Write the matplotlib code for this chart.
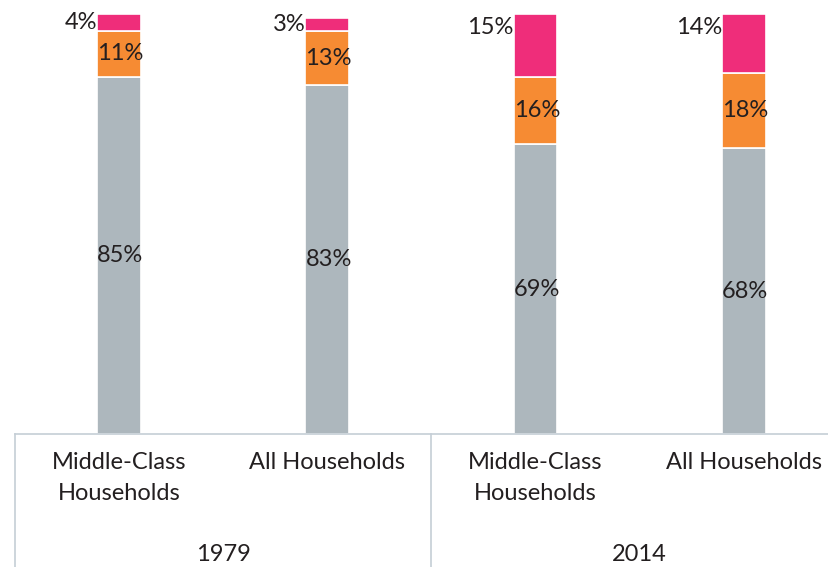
import numpy as np
import matplotlib.pyplot as plt

groups = ["1979", "2014"]
categories = ["Middle-Class\nHouseholds", "All Households",
              "Middle-Class\nHouseholds", "All Households"]
bottom_vals = [85, 83, 69, 68]
middle_vals = [11, 13, 16, 18]
top_vals = [4, 3, 15, 14]

c_gray = "#adb7bd"
c_orange = "#f68b33"
c_pink = "#ef2d7a"
txt = "#231f20"
line_c = "#c5ced6"

plt.rcParams['font.family'] = ['Lato', 'DejaVu Sans']

fig = plt.figure(figsize=(8.29, 5.67), dpi=100)
ax = fig.add_axes([15 / 829, 133 / 567, 1 - 15 / 829, 420 / 567])

x = np.arange(len(categories))
w = 0.21
b = np.array(bottom_vals)
m = np.array(middle_vals)
t = np.array(top_vals)

ax.bar(x, b, w, color=c_gray, edgecolor="white", linewidth=1.2)
ax.bar(x, m, w, bottom=b, color=c_orange, edgecolor="white", linewidth=1.2)
ax.bar(x, t, w, bottom=b + m, color=c_pink, edgecolor="white", linewidth=1.2)

fs = 17
for i in range(len(x)):
    left = x[i] - w / 2
    ax.text(left, b[i] / 2, f"{b[i]}%", ha="left", va="center", fontsize=fs, color=txt)
    ax.text(left, b[i] + m[i] / 2, f"{m[i]}%", ha="left", va="center", fontsize=fs, color=txt)
    top = b[i] + m[i] + t[i]
    ax.text(left, top - min(t[i] / 2, 3.3), f"{t[i]}%", ha="right", va="center",
            fontsize=fs, color=txt)

ax.set_xlim(-0.5, 3.41)
ax.set_ylim(0, 100)
ax.set_xticks([])
ax.set_yticks([])
for s in ["top", "right", "left"]:
    ax.spines[s].set_visible(False)
ax.spines["bottom"].set_color(line_c)
ax.spines["bottom"].set_linewidth(1.2)

trans = ax.get_xaxis_transform()
for xv in [-0.5, 1.5]:
    ax.plot([xv, xv], [0, -0.33], transform=trans, color=line_c, lw=1.2, clip_on=False)

for i, lab in enumerate(categories):
    ax.text(x[i], -0.044, lab, transform=trans, ha="center", va="top",
            fontsize=fs, color=txt, linespacing=1.55)

for j, g in enumerate(groups):
    ax.text(x[2 * j:2 * j + 2].mean(), -0.262, g, transform=trans, ha="center", va="top",
            fontsize=fs, color=txt)

fig.savefig("out.png", dpi=100)
